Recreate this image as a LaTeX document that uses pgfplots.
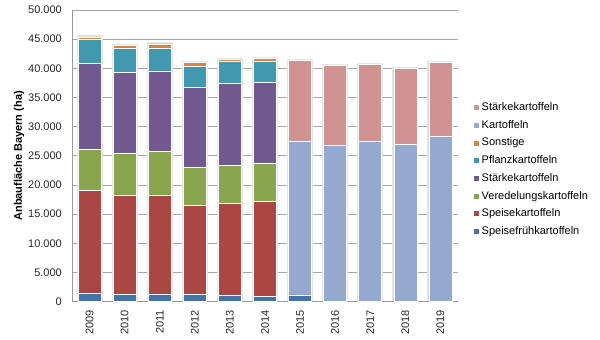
\documentclass[border=0pt]{standalone}
\usepackage{pgfplots}
\pgfplotsset{compat=1.18}
\usepackage{fontspec}
\setmainfont{Liberation Sans}
\definecolor{cFrueh}{HTML}{4572A7}
\definecolor{cSpeise}{HTML}{AA4643}
\definecolor{cVered}{HTML}{89A54E}
\definecolor{cStaerke}{HTML}{71588F}
\definecolor{cPflanz}{HTML}{4198AF}
\definecolor{cSonst}{HTML}{DB843D}
\definecolor{cKart}{HTML}{93A9CF}
\definecolor{cStaerkeB}{HTML}{D19392}
\pgfplotsset{
  common/.style={
    at={(72pt,38.3pt)}, anchor=south west,
    scale only axis, width=386pt, height=291.7pt,
    xmin=-0.5, xmax=10.5, ymin=0, ymax=50000,
    xtick={0,...,10},
    ytick={0,5000,...,50000},
    scaled y ticks=false,
    axis x line*=bottom, axis y line*=left,
    axis line style={draw=black!40, line width=0.8pt, -},
    major tick length=0pt, tick style={draw=none},
    bar width=23pt,
  }
}
\begin{document}
\begin{tikzpicture}
\path[use as bounding box] (0,0) rectangle (600pt,340pt);
% background: grid and soft bar glow
\begin{axis}[common, ybar, bar shift=0pt,
  xticklabels={}, yticklabels={},
  ymajorgrids, major grid style={draw=black!35, line width=0.8pt},
]
\addplot[draw=black!10, line width=3pt, fill=white] coordinates {(0,45390) (1,43940) (2,44190) (3,41070) (4,41580) (5,41650) (6,41300) (7,40450) (8,40670) (9,40030) (10,41070)};
\end{axis}
\begin{axis}[common,
  ybar stacked,
  xticklabels={2009,2010,2011,2012,2013,2014,2015,2016,2017,2018,2019},
  /pgf/number format/.cd, 1000 sep={.}, assume math mode=true, /pgfplots/.cd,
  tick label style={font=\fontsize{11}{13}\selectfont, text=black!85},
  xticklabel style={rotate=90, anchor=east, inner sep=0pt},
  xticklabel shift=8pt,
  yticklabel style={inner sep=0pt},
  yticklabel shift=10pt,
  ylabel={Anbaufläche Bayern (ha)},
  ylabel style={at={(axis description cs:-0.137,0.5)}, anchor=center, font=\fontsize{11}{13}\selectfont\bfseries},
  every axis plot/.append style={draw=white, line width=0.6pt},
  reverse legend,
  legend image code/.code={\fill[#1, draw=none] (0pt,-2.5pt) rectangle (5pt,2.5pt);},
  legend style={at={(1.0402,0.4525)}, anchor=west, draw=none, fill=none,
    font=\fontsize{11}{13}\selectfont, row sep=7.2pt, column sep=3pt, inner sep=0pt,
    nodes={inner sep=0pt, text height=8pt, text depth=2.5pt}},
  legend cell align=left,
]
\addplot[fill=cFrueh] coordinates {(0,1440) (1,1200) (2,1200) (3,1200) (4,1030) (5,930) (6,1030) (7,0) (8,0) (9,0) (10,0)};
\addlegendentry{Speisefrühkartoffeln}
\addplot[fill=cSpeise] coordinates {(0,17600) (1,17100) (2,17100) (3,15300) (4,15870) (5,16320) (6,0) (7,0) (8,0) (9,0) (10,0)};
\addlegendentry{Speisekartoffeln}
\addplot[fill=cVered] coordinates {(0,7000) (1,7200) (2,7500) (3,6520) (4,6470) (5,6530) (6,0) (7,0) (8,0) (9,0) (10,0)};
\addlegendentry{Veredelungskartoffeln}
\addplot[fill=cStaerke] coordinates {(0,14800) (1,13740) (2,13750) (3,13700) (4,14090) (5,13750) (6,0) (7,0) (8,0) (9,0) (10,0)};
\addlegendentry{Stärkekartoffeln}
\addplot[fill=cPflanz] coordinates {(0,4100) (1,4130) (2,3950) (3,3550) (4,3730) (5,3710) (6,0) (7,0) (8,0) (9,0) (10,0)};
\addlegendentry{Pflanzkartoffeln}
\addplot[fill=cSonst] coordinates {(0,450) (1,570) (2,690) (3,800) (4,390) (5,410) (6,0) (7,0) (8,0) (9,0) (10,0)};
\addlegendentry{Sonstige}
\addplot[fill=cKart] coordinates {(0,0) (1,0) (2,0) (3,0) (4,0) (5,0) (6,26410) (7,26750) (8,27490) (9,27040) (10,28350)};
\addlegendentry{Kartoffeln}
\addplot[fill=cStaerkeB] coordinates {(0,0) (1,0) (2,0) (3,0) (4,0) (5,0) (6,13860) (7,13700) (8,13180) (9,12990) (10,12720)};
\addlegendentry{Stärkekartoffeln}
\end{axis}
\end{tikzpicture}
\end{document}
